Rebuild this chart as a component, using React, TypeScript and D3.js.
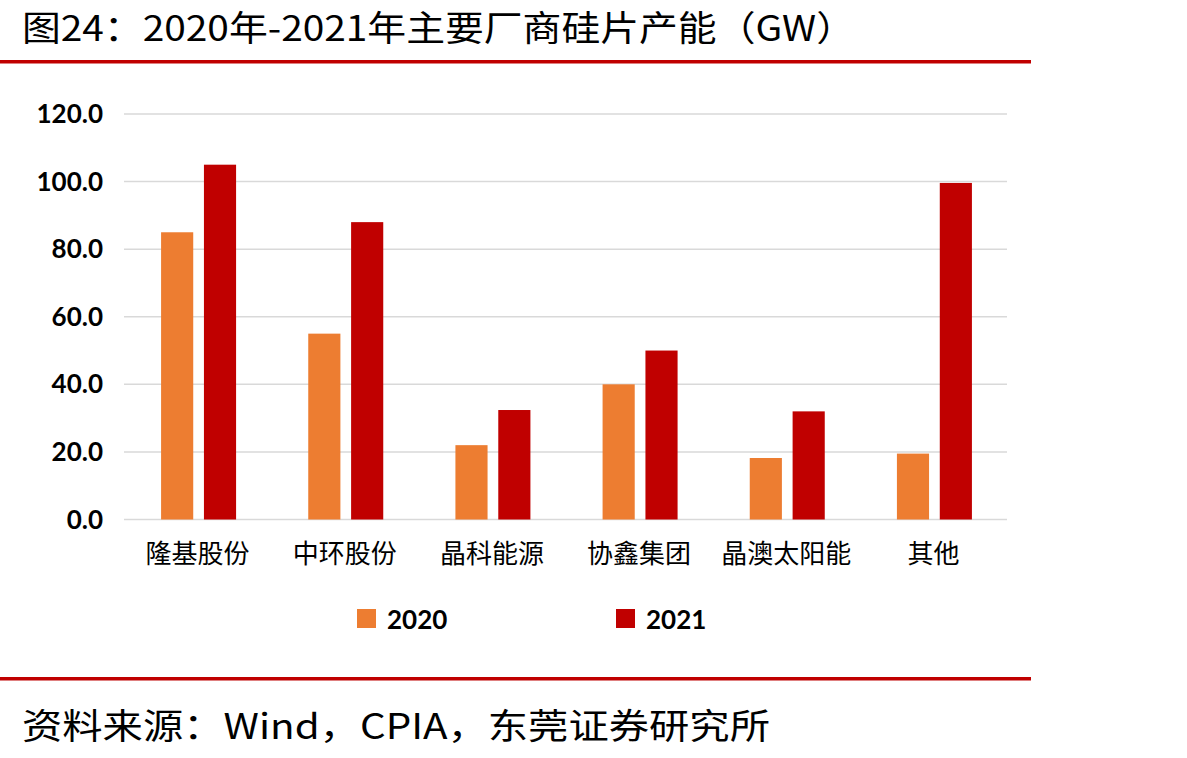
import * as d3 from 'd3';

const companies = ['隆基股份', '中环股份', '晶科能源', '协鑫集团', '晶澳太阳能', '其他'];
const series = ['2020', '2021'];
const values2020 = [85, 55, 22, 40, 18.2, 19.5];
const values2021 = [105, 88, 32.4, 50, 32, 99.6];
const yTicks = [0, 20, 40, 60, 80, 100, 120];

const colors = ['#ED7D31', '#C00000'];

export default function App() {
  const width = 1187;
  const height = 758;
  const plot = { left: 124, right: 1007, top: 114, bottom: 519.5 };

  const x = d3.scaleBand<string>()
    .domain(companies)
    .range([plot.left, plot.right])
    .paddingInner(0)
    .paddingOuter(0);

  const x1 = d3.scaleBand<string>()
    .domain(series)
    .range([0, 75])
    .paddingInner(0.25);

  const y = d3.scaleLinear()
    .domain([0, 120])
    .range([plot.bottom, plot.top]);

  const data = [values2020, values2021];
  const barOffset = (x.bandwidth() - 75) / 2 + 1;

  return (
    <svg
      width={width}
      height={height}
      style={{ position: 'absolute', left: 0, top: 0, background: '#fff' }}
    >
      {/* Title */}
      <text
        x={22}
        y={41}
        fontFamily="'Noto Sans CJK SC', sans-serif"
        fontSize={35}
        textLength={833}
        lengthAdjust="spacingAndGlyphs"
        fill="#000"
      >
        图24：2020年-2021年主要厂商硅片产能（GW）
      </text>
      <rect x={0} y={60} width={1031} height={3.5} fill="#C00000" />

      {/* Grid */}
      {yTicks.map(t => (
        <g key={t}>
          <line
            x1={plot.left}
            x2={plot.right}
            y1={y(t)}
            y2={y(t)}
            stroke="#d9d9d9"
            strokeWidth={1.5}
          />
          <text
            x={103}
            y={y(t)}
            dy="0.35em"
            textAnchor="end"
            fontFamily="Lato, 'Open Sans', sans-serif"
            fontWeight="bold"
            fontSize={26}
            fill="#000"
          >
            {t.toFixed(1)}
          </text>
        </g>
      ))}

      {/* Bars */}
      {series.map((s, si) => (
        <g key={s}>
          {companies.map((c, ci) => (
            <rect
              key={c}
              x={(x(c) ?? 0) + barOffset + (x1(s) ?? 0)}
              y={y(data[si][ci])}
              width={x1.bandwidth()}
              height={y(0) - y(data[si][ci])}
              fill={colors[si]}
            />
          ))}
        </g>
      ))}

      {/* Category labels */}
      {companies.map(c => (
        <text
          key={c}
          x={(x(c) ?? 0) + x.bandwidth() / 2}
          y={563}
          textAnchor="middle"
          fontFamily="'Noto Sans CJK SC', serif"
          fontSize={26}
          fill="#000"
        >
          {c}
        </text>
      ))}

      {/* Legend */}
      {series.map((s, si) => (
        <g key={s} transform={`translate(${357 + si * 259},609)`}>
          <rect x={0} y={0} width={19} height={19} fill={colors[si]} />
          <text
            x={30}
            y={20}
            fontFamily="Lato, 'Open Sans', sans-serif"
            fontWeight="bold"
            fontSize={26}
            fill="#000"
          >
            {s}
          </text>
        </g>
      ))}

      {/* Source */}
      <rect x={0} y={677} width={1031} height={3.5} fill="#C00000" />
      <text
        x={22}
        y={739}
        fontFamily="'Noto Sans CJK SC', sans-serif"
        fontSize={35}
        textLength={748}
        lengthAdjust="spacingAndGlyphs"
        fill="#000"
      >
        资料来源：Wind，CPIA，东莞证券研究所
      </text>
    </svg>
  );
}
